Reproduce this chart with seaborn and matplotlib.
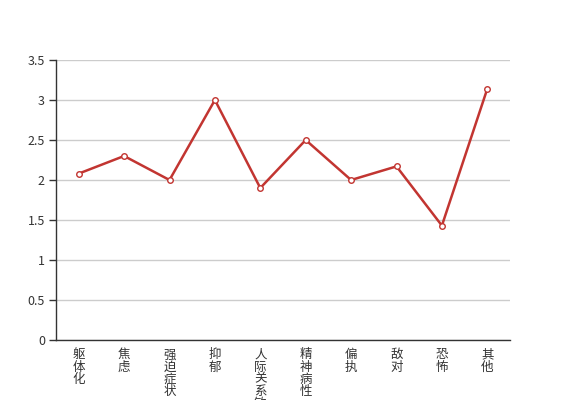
import numpy as np
import pandas as pd
import matplotlib
matplotlib.use("Agg")
import matplotlib.pyplot as plt
import seaborn as sns

# factor names and mean scores
categories = ["躯体化", "焦虑", "强迫症状", "抑郁", "人际关系敏感",
              "精神病性", "偏执", "敌对", "恐怖", "其他"]
scores = [2.08, 2.3, 2.0, 3.0, 1.9, 2.5, 2.0, 2.17, 1.43, 3.14]
y_ticks = [0, 0.5, 1, 1.5, 2, 2.5, 3, 3.5]

df = pd.DataFrame({"factor": categories, "score": scores})

sns.set_style("white")
plt.rcParams["font.family"] = ["Noto Sans CJK SC", "DejaVu Sans"]

fig = plt.figure(figsize=(5.67, 4.0), dpi=100)
ax = fig.add_axes([56 / 567, 60 / 400, 454 / 567, 280 / 400])

sns.lineplot(data=df, x="factor", y="score", ax=ax, color="#c23531",
             linewidth=1.8, marker="o", markersize=4, markerfacecolor="white",
             markeredgecolor="#c23531", markeredgewidth=1, zorder=3)

ax.set_xlim(-0.5, len(categories) - 0.5)
ax.set_ylim(0, 3.5)
ax.set_yticks(y_ticks)
ax.set_yticklabels([f"{v:g}" for v in y_ticks])
ax.yaxis.grid(True, color="#cccccc", linewidth=1)
ax.set_axisbelow(True)

# vertical labels, one character per line
ax.set_xticks(range(len(categories)))
ax.set_xticklabels(["\n".join(c) for c in categories], linespacing=0.92, va="top")
ax.set_xticks(np.arange(-0.5, len(categories), 1), minor=True)
ax.tick_params(axis="x", which="major", length=0, pad=6, labelsize=9, labelcolor="#333333")
ax.tick_params(axis="x", which="minor", length=5, width=1, color="#333333", direction="out")
ax.tick_params(axis="y", length=5, width=1, color="#333333", direction="out",
               labelsize=9, labelcolor="#333333", pad=3, left=True)

for side in ["top", "right"]:
    ax.spines[side].set_visible(False)
for side in ["left", "bottom"]:
    ax.spines[side].set_color("#333333")
    ax.spines[side].set_linewidth(1)

ax.set_xlabel("")
ax.set_ylabel("")

fig.savefig("out.png", dpi=100)
